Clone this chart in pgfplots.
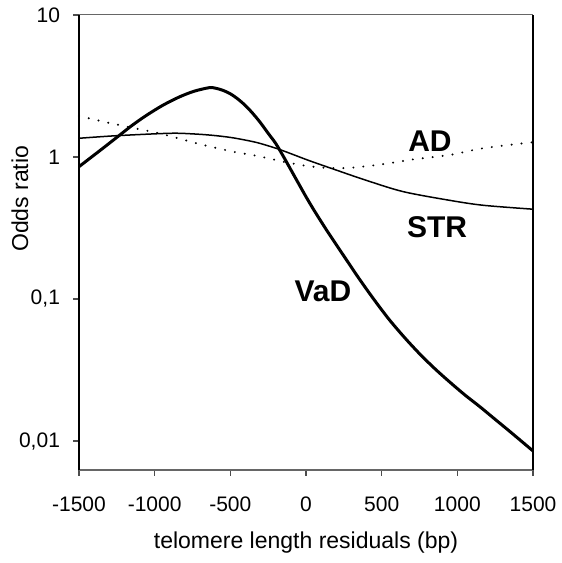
\documentclass[border=0pt]{standalone}
\usepackage{fontspec}
\setmainfont{Liberation Sans}
\usepackage{pgfplots}
\pgfplotsset{compat=1.18}
\begin{document}
\begin{tikzpicture}
\begin{axis}[
  name=ax,
  scale only axis,
  width=227pt, height=227.5pt,
  ymode=log,
  xmin=-1500, xmax=1500,
  ymin=0.00625, ymax=10,
  xtick={-1500,-1000,-500,0,500,1000,1500},
  xticklabels={-1500,-1000,-500,0,500,1000,1500},
  ytick={0.01,0.1,1,10},
  yticklabels={{0,01},{0,1},1,10},
  yminorticks=false,
  tick pos=left,
  tick align=outside,
  major tick length=3pt,
  /pgf/number format/assume math mode=true,
  axis line style={draw=none},
  tick style={line width=0.6pt, black!70},
  every tick label/.append style={font=\fontsize{10.5}{12}\selectfont},
  xticklabel style={yshift=-7pt},
  yticklabel style={xshift=-3pt},
  xlabel={telomere length residuals (bp)},
  ylabel={Odds ratio},
  label style={font=\fontsize{11.5}{13}\selectfont},
  xlabel style={at={(axis description cs:0.5,-0.16)}, anchor=center},
  ylabel style={at={(axis description cs:-0.13,0.596)}, anchor=center},
  clip=false,
]
% frame
\draw[black!60, line width=0.6pt] (rel axis cs:0,0) -- (rel axis cs:1,0);
\draw[black!60, line width=0.5pt] (rel axis cs:0,1) -- (rel axis cs:1,1);
\draw[black, line width=1pt] (rel axis cs:0,0) -- (rel axis cs:0,1);
\draw[black, line width=1pt] (rel axis cs:1,0) -- (rel axis cs:1,1);
% VaD
\addplot[black, line width=1.5pt, smooth] coordinates {
(-1500,0.855) (-1350,1.135) (-1236,1.413) (-1150,1.667) (-1059,1.950)
(-950,2.301) (-839,2.642) (-740,2.904) (-641,3.076) (-600,3.055)
(-550,2.951) (-500,2.786) (-450,2.559) (-400,2.301) (-350,2.018)
(-300,1.738) (-250,1.469) (-200,1.245) (-150,1.012) (-100,0.813)
(-50,0.653) (0,0.525) (50,0.427) (100,0.351) (150,0.290)
(250,0.201) (350,0.1396) (450,0.0989) (550,0.0716) (650,0.0537)
(750,0.0412) (850,0.0324) (950,0.0260) (1050,0.0211) (1150,0.0174)
(1250,0.0142) (1350,0.0116) (1500,0.00851)
};
% STR
\addplot[black, line width=0.75pt, smooth] coordinates {
(-1500,1.355) (-1250,1.413) (-900,1.469) (-750,1.455) (-620,1.422)
(-500,1.374) (-400,1.315) (-311,1.253) (-172,1.127) (20,0.944)
(200,0.809) (400,0.684) (643,0.570) (951,0.495) (1172,0.457) (1500,0.429)
};
% AD
\addplot[black, line width=1.1pt, line cap=round, dash pattern=on 0pt off 5pt, smooth] coordinates {
(-1500,1.945) (-1236,1.679) (-971,1.469) (-707,1.236) (-480,1.089)
(-355,1.033) (-238,0.973) (-150,0.927) (0,0.867) (150,0.836) (300,0.841)
(511,0.891) (700,0.959) (951,1.035) (1172,1.153) (1500,1.271)
};
\node[font=\fontsize{15}{18}\selectfont\bfseries] at (axis cs:819,1.30) {AD};
\node[font=\fontsize{15}{18}\selectfont\bfseries] at (axis cs:866,0.321) {STR};
\node[font=\fontsize{15}{18}\selectfont\bfseries] at (axis cs:112,0.114) {VaD};
\end{axis}
\pgfresetboundingbox
\path[use as bounding box] ([xshift=-39.5pt,yshift=-46.5pt]ax.south west) rectangle ([xshift=14pt,yshift=7.5pt]ax.north east);
\end{tikzpicture}
\end{document}
